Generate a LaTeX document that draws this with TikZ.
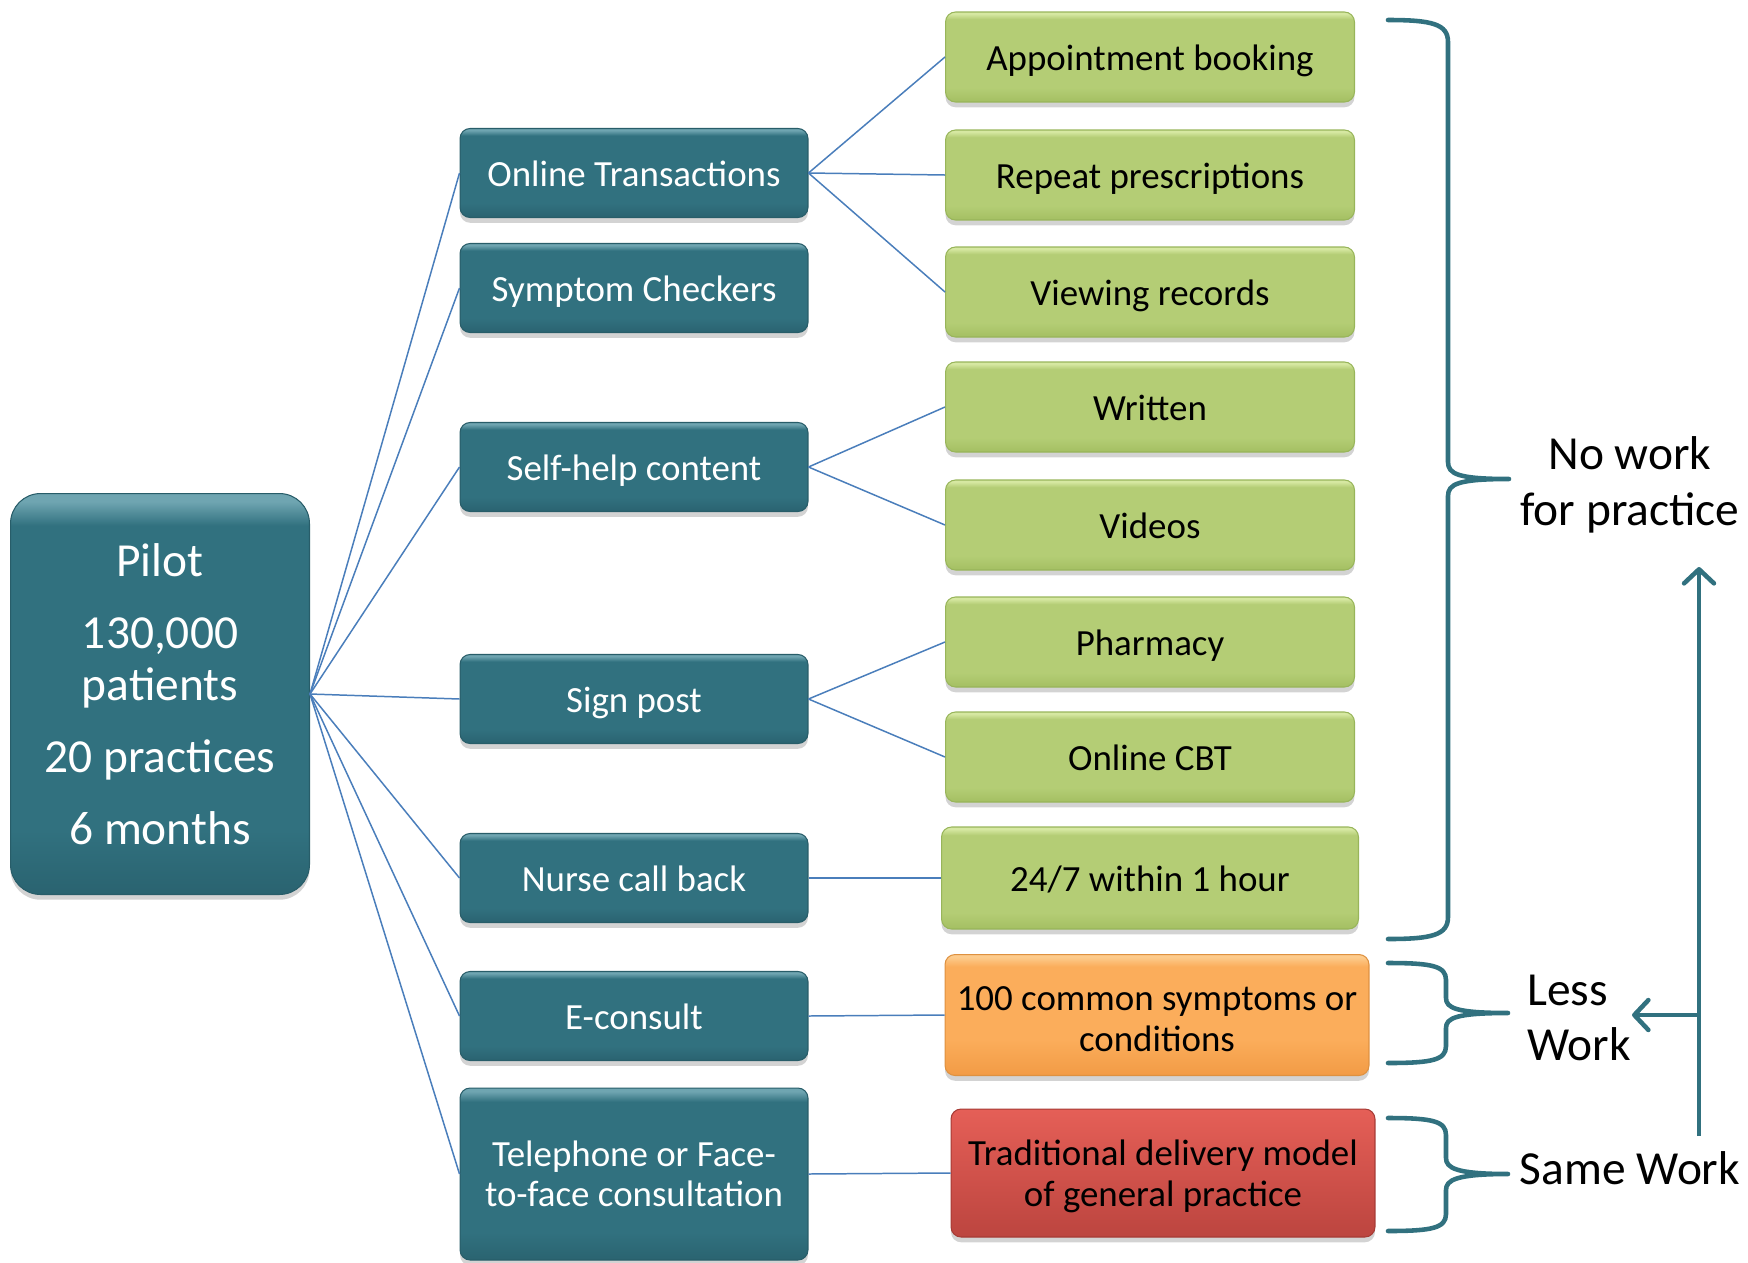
\documentclass[tikz,border=0pt]{standalone}
\usepackage{fontspec}
\setmainfont{Carlito}
\usetikzlibrary{shadows, arrows.meta}

\definecolor{tealbox}{HTML}{31717F}
\definecolor{tealbot}{HTML}{2A6370}
\definecolor{teallight}{HTML}{6FA5B1}
\definecolor{tealborder}{HTML}{285D69}
\definecolor{greenbox}{HTML}{B4CD75}
\definecolor{greenbot}{HTML}{A4BF62}
\definecolor{greenlight}{HTML}{D6E8A2}
\definecolor{greenborder}{HTML}{98B55A}
\definecolor{orangebox}{HTML}{FBAD5B}
\definecolor{orangebot}{HTML}{F29B45}
\definecolor{orangelight}{HTML}{FDCB8C}
\definecolor{orangeborder}{HTML}{DE9140}
\definecolor{redtop}{HTML}{E55F57}
\definecolor{redbot}{HTML}{BC453F}
\definecolor{redborder}{HTML}{A63B35}
\definecolor{linkblue}{HTML}{4A7EBB}

\pgfdeclareverticalshading{tealshade}{100bp}{color(0bp)=(tealbot); color(25bp)=(tealbot); color(33bp)=(tealbox); color(71bp)=(tealbox); color(74bp)=(teallight); color(100bp)=(teallight)}
\pgfdeclareverticalshading{greenshade}{100bp}{color(0bp)=(greenbot); color(25bp)=(greenbot); color(33bp)=(greenbox); color(71bp)=(greenbox); color(74bp)=(greenlight); color(100bp)=(greenlight)}
\pgfdeclareverticalshading{orangeshade}{100bp}{color(0bp)=(orangebot); color(25bp)=(orangebot); color(40bp)=(orangebox); color(70bp)=(orangebox); color(74bp)=(orangelight); color(100bp)=(orangelight)}

\begin{document}
\begin{tikzpicture}[
    x=0.02cm, y=-0.02cm,
    % Define node styles
    boxbase/.style={
        rectangle,
        rounded corners=0.2cm,
        line width=0.6pt,
        inner sep=2pt,
        align=center,
        text height=21.5pt,  % one line, placed like the slide text
        text depth=5.65pt,
        font=\fontsize{21}{23}\selectfont,
        drop shadow={shadow xshift=0pt, shadow yshift=-3pt, opacity=0.35}
    },
    pilotbox/.style={
        boxbase,
        rounded corners=0.6cm,
        draw=tealborder,
        shading=tealshade,
        text=white,
        minimum width=5.98cm,
        minimum height=8.02cm,
        text height=171pt,
        text depth=0pt,
        font=\fontsize{27}{29.5}\selectfont
    },
    catbox/.style={
        boxbase,
        draw=tealborder,
        shading=tealshade,
        text=white,
        minimum width=6.96cm,
        minimum height=1.78cm
    },
    optbox/.style={
        boxbase,
        draw=greenborder,
        shading=greenshade,
        text=black,
        minimum width=8.18cm,
        minimum height=1.8cm
    },
    lessbox/.style={
        boxbase,
        draw=orangeborder,
        shading=orangeshade,
        text=black,
        minimum width=8.48cm,
        minimum height=2.42cm
    },
    samebox/.style={
        boxbase,
        draw=redborder,
        top color=redtop,
        bottom color=redbot,
        text=black,
        minimum width=8.48cm,
        minimum height=2.56cm
    },
    worklabel/.style={
        align=center,
        inner sep=0pt,
        font=\fontsize{27}{31.6}\selectfont
    },
    link/.style={draw=linkblue, line width=0.85pt},
    bracket/.style={draw=tealbox, line width=2.6pt, line cap=round, line join=round},
    workarrow/.style={
        draw=tealbox,
        line width=2.6pt,
        -{Straight Barb[length=8pt, width=17pt, line width=0pt 1, round]}
    }
]
    % Fix the page to the reference size
    \useasboundingbox (0,0) rectangle (1748,1262);

    % Pilot (root)
    \node[pilotbox] (pilot) at (160,694)
        {Pilot\\[11.5pt]130,000\\patients\\[11.5pt]20 practices\\[11.5pt]6 months};

    % Services offered
    \node[catbox] (ot) at (634,173) {Online Transactions};
    \node[catbox] (sc) at (634,288) {Symptom Checkers};
    \node[catbox] (sh) at (634,467) {Self-help content};
    \node[catbox] (sp) at (634,699) {Sign post};
    \node[catbox] (ncb) at (634,878) {Nurse call back};
    \node[catbox] (ec) at (634,1016) {E-consult};
    \node[catbox, minimum height=3.44cm, text height=37.5pt, text depth=0pt] (tf) at (634,1174)
        {Telephone or Face-\\to-face consultation};

    % What each service gives
    \node[optbox] (ab) at (1150,57) {Appointment booking};
    \node[optbox] (rp) at (1150,175) {Repeat prescriptions};
    \node[optbox] (vr) at (1150,292) {Viewing records};
    \node[optbox] (wr) at (1150,407) {Written};
    \node[optbox] (vid) at (1150,525) {Videos};
    \node[optbox] (ph) at (1150,642) {Pharmacy};
    \node[optbox] (cbt) at (1150,757) {Online CBT};
    \node[optbox, minimum width=8.34cm, minimum height=2.04cm] (hour) at (1150,878)
        {24/7 within 1 hour};
    \node[lessbox, text height=41.3pt, text depth=0pt] (hundred) at (1157,1015)
        {100 common symptoms or\\conditions};
    \node[samebox, text height=37.7pt, text depth=0pt] (trad) at (1163,1173)
        {Traditional delivery model\\of general practice};

    % Workload labels
    \node[worklabel] (nowork) at (1630,485) {No work\\for practice};
    \node[worklabel, anchor=west, align=left] (less) at (1527,1018) {Less\\Work};
    \node[worklabel] (same) at (1630,1168) {Same Work};

    % Arrow points
    \coordinate (arrowfoot) at (1699,1136);
    \coordinate (arrowtop) at (1699,567);
    \coordinate (branch) at (1699,1015);
    \coordinate (branchtip) at (1632,1015);

    % Pilot to services
    \draw[link] (pilot.east) -- (ot.west);
    \draw[link] (pilot.east) -- (sc.west);
    \draw[link] (pilot.east) -- (sh.west);
    \draw[link] (pilot.east) -- (sp.west);
    \draw[link] (pilot.east) -- (ncb.west);
    \draw[link] (pilot.east) -- (ec.west);
    \draw[link] (pilot.east) -- (tf.west);

    % Services to what they give
    \draw[link] (ot.east) -- (ab.west);
    \draw[link] (ot.east) -- (rp.west);
    \draw[link] (ot.east) -- (vr.west);
    \draw[link] (sh.east) -- (wr.west);
    \draw[link] (sh.east) -- (vid.west);
    \draw[link] (sp.east) -- (ph.west);
    \draw[link] (sp.east) -- (cbt.west);
    \draw[link] (ncb.east) -- (hour.west);
    \draw[link] (ec.east) -- (hundred.west);
    \draw[link] (tf.east) -- (trad.west);

    % Braces
    \draw[bracket] (1388,20) .. controls (1432,20) and (1448,24) .. (1448,42)
        -- (1448,462) .. controls (1448,474) and (1458,479) .. (1509,479)
        .. controls (1458,479) and (1448,484) .. (1448,496)
        -- (1448,917) .. controls (1448,935) and (1432,939) .. (1388,939);
    \draw[bracket] (1388,963) .. controls (1432,963) and (1446,966) .. (1446,980)
        -- (1446,998) .. controls (1446,1008) and (1456,1013) .. (1508,1013)
        .. controls (1456,1013) and (1446,1018) .. (1446,1028)
        -- (1446,1046) .. controls (1446,1060) and (1432,1063) .. (1388,1063);
    \draw[bracket] (1388,1118) .. controls (1432,1118) and (1446,1121) .. (1446,1135)
        -- (1446,1158) .. controls (1446,1168) and (1456,1174) .. (1508,1174)
        .. controls (1456,1174) and (1446,1180) .. (1446,1190)
        -- (1446,1214) .. controls (1446,1228) and (1432,1231) .. (1388,1231);

    % Work arrows
    \draw[workarrow] (arrowfoot) -- (arrowtop);
    \draw[workarrow] (branch) -- (branchtip);
\end{tikzpicture}
\end{document}
